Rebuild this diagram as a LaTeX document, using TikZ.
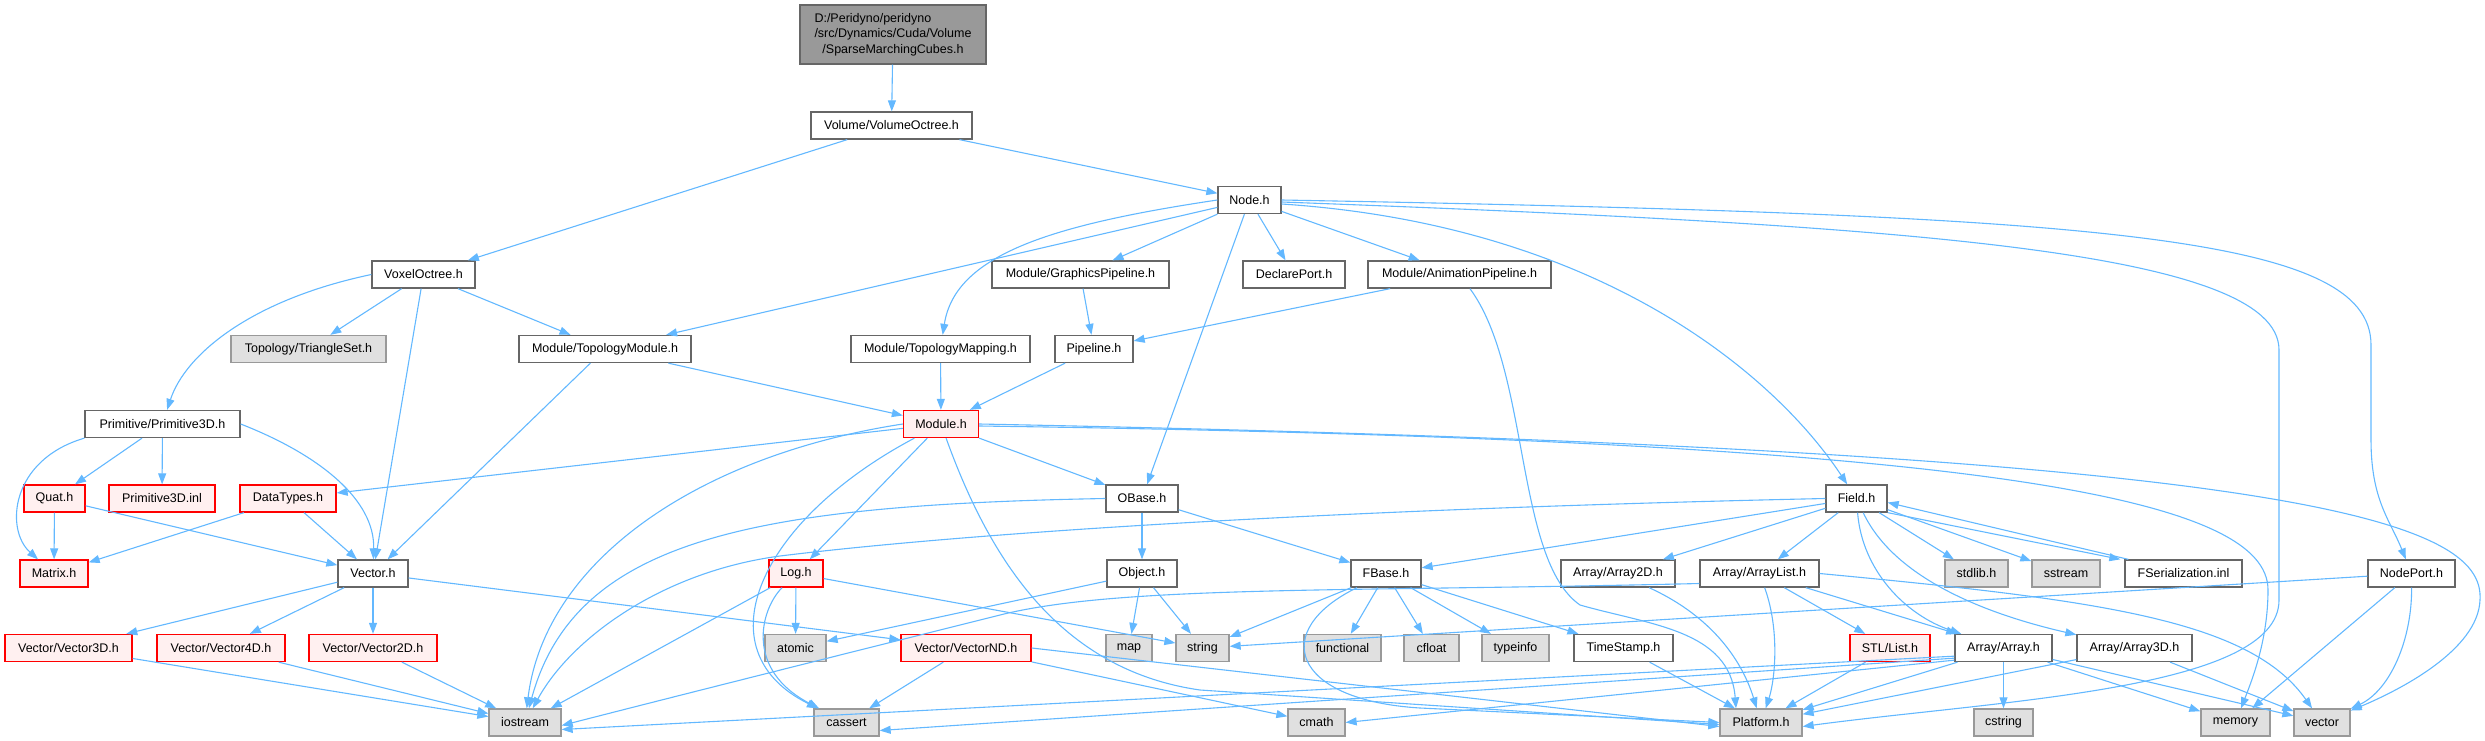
\documentclass[tikz,border=0pt]{standalone}
\usepackage{fontspec}
\setmainfont{Liberation Sans}
\usetikzlibrary{arrows.meta}
\definecolor{depblue}{HTML}{63B8FF}
\definecolor{boxline}{HTML}{666666}
\definecolor{sysfill}{HTML}{E0E0E0}
\definecolor{sysline}{HTML}{999999}
\definecolor{redfill}{HTML}{FFF0F0}
\definecolor{topfill}{HTML}{999999}
\begin{document}
\begin{tikzpicture}[x=1pt,y=-1pt,
  file/.style={draw=boxline,fill=white,line width=1.3pt,minimum height=27pt,inner sep=0pt,font={\fontsize{12.5}{15.5}\selectfont}},
  redfile/.style={file,draw=red,fill=redfill},
  sysfile/.style={file,draw=sysline,fill=sysfill},
  dep/.style={draw=depblue,line width=1.1pt,-{Triangle[length=11pt,width=8pt]}}]
\useasboundingbox (0,0) rectangle (2485,741);
\node[file,fill=topfill,minimum width=186pt,minimum height=59pt] (smc) at (893,34.5) {\begin{tabular}{@{}l@{}}D:/Peridyno/peridyno\\/src/Dynamics/Cuda/Volume\\\multicolumn{1}{@{}c@{}}{/SparseMarchingCubes.h}\end{tabular}};
\node[file,minimum width=161pt] (volOct) at (891.5,125.5) {Volume/VolumeOctree.h};
\node[file,minimum width=63pt] (nodeH) at (1249.5,200) {Node.h};
\node[file,minimum width=103pt] (voxOct) at (423.5,274.5) {VoxelOctree.h};
\node[file,minimum width=177pt] (graphPipe) at (1080.5,274.5) {Module/GraphicsPipeline.h};
\node[file,minimum width=102pt] (declPort) at (1294,274.5) {DeclarePort.h};
\node[file,minimum width=183pt] (animPipe) at (1459.5,274.5) {Module/AnimationPipeline.h};
\node[sysfile,minimum width=155pt] (triSet) at (308.5,349) {Topology/TriangleSet.h};
\node[file,minimum width=172pt] (topoModule) at (605,349) {Module/TopologyModule.h};
\node[file,minimum width=179pt] (topoMap) at (940.5,349) {Module/TopologyMapping.h};
\node[file,minimum width=78pt] (pipeline) at (1094,349) {Pipeline.h};
\node[file,minimum width=155pt] (prim3D) at (162.5,424) {Primitive/Primitive3D.h};
\node[redfile,minimum width=75pt] (module) at (941,424) {Module.h};
\node[redfile,minimum width=61pt] (quat) at (54.5,498.5) {Quat.h};
\node[redfile,minimum width=106pt] (prim3Dinl) at (162,498.5) {Primitive3D.inl};
\node[redfile,minimum width=96pt] (dataTypes) at (288,498.5) {DataTypes.h};
\node[file,minimum width=72pt] (oBase) at (1142,498.5) {OBase.h};
\node[file,minimum width=61pt] (field) at (1856.5,498.5) {Field.h};
\node[redfile,minimum width=68pt] (matrix) at (54,573.5) {Matrix.h};
\node[file,minimum width=70pt] (vectorH) at (373,573.5) {Vector.h};
\node[redfile,minimum width=54pt] (log) at (796,573.5) {Log.h};
\node[file,minimum width=70pt] (object) at (1142,573.5) {Object.h};
\node[file,minimum width=70pt] (fBase) at (1386,573.5) {FBase.h};
\node[file,minimum width=114pt] (array2D) at (1618,573.5) {Array/Array2D.h};
\node[file,minimum width=119pt] (arrayList) at (1759.5,573.5) {Array/ArrayList.h};
\node[sysfile,minimum width=63pt] (stdlib) at (1976.5,573.5) {stdlib.h};
\node[sysfile,minimum width=68pt] (sstream) at (2066,573.5) {sstream};
\node[file,minimum width=117pt] (fSerial) at (2183.5,573.5) {FSerialization.inl};
\node[file,minimum width=87pt] (nodePort) at (2411.5,573.5) {NodePort.h};
\node[redfile,minimum width=127pt] (vec3D) at (68.5,648) {Vector/Vector3D.h};
\node[redfile,minimum width=128pt] (vec4D) at (221,648) {Vector/Vector4D.h};
\node[redfile,minimum width=128pt] (vec2D) at (373,648) {Vector/Vector2D.h};
\node[sysfile,minimum width=61pt] (atomic) at (795.5,648) {atomic};
\node[redfile,minimum width=130pt] (vecND) at (966,648) {Vector/VectorND.h};
\node[sysfile,minimum width=46pt] (map) at (1129,648) {map};
\node[sysfile,minimum width=53pt] (string) at (1202.5,648) {string};
\node[sysfile,minimum width=77pt] (functional) at (1342.5,648) {functional};
\node[sysfile,minimum width=55pt] (cfloat) at (1431.5,648) {cfloat};
\node[sysfile,minimum width=67pt] (typeinfo) at (1515.5,648) {typeinfo};
\node[file,minimum width=99pt] (timeStamp) at (1623.5,648) {TimeStamp.h};
\node[redfile,minimum width=80pt] (stlList) at (1890,648) {STL/List.h};
\node[file,minimum width=97pt] (array) at (2003.5,648) {Array/Array.h};
\node[file,minimum width=115pt] (array3D) at (2134.5,648) {Array/Array3D.h};
\node[sysfile,minimum width=72pt] (iostream) at (525,722.5) {iostream};
\node[sysfile,minimum width=65pt] (cassert) at (846.5,722.5) {cassert};
\node[sysfile,minimum width=57pt] (cmath) at (1316.5,722.5) {cmath};
\node[sysfile,minimum width=82pt] (platform) at (1761,722.5) {Platform.h};
\node[sysfile,minimum width=59pt] (cstring) at (2003.5,722.5) {cstring};
\node[sysfile,minimum width=69pt] (memory) at (2235.5,722.5) {memory};
\node[sysfile,minimum width=56pt] (stdVector) at (2322,722.5) {vector};
\draw[dep] (smc) -- (volOct);
\draw[dep] (volOct) -- (voxOct);
\draw[dep] (volOct) -- (nodeH);
\draw[dep] (voxOct.west) .. controls (250,300) and (185,355) .. (prim3D);
\draw[dep] (voxOct) -- (triSet);
\draw[dep] (voxOct) -- (vectorH);
\draw[dep] (voxOct) -- (topoModule);
\draw[dep] (nodeH) -- (topoModule);
\draw[dep] (nodeH.west) .. controls (1050,225) and (955,255) .. (topoMap);
\draw[dep] (nodeH) -- (graphPipe);
\draw[dep] (nodeH) -- (oBase);
\draw[dep] (nodeH) -- (declPort);
\draw[dep] (nodeH) -- (animPipe);
\draw[dep] ([yshift=-4pt]nodeH.east) .. controls (1600,225) and (1775,375) .. (field);
\draw[dep] ([yshift=-2pt]nodeH.east) .. controls (1900,225) and (2279,250) .. (2279,350) -- (2279,600) .. controls (2279,690) and (2000,700) .. ([yshift=-4pt]platform.east);
\draw[dep] (nodeH.east) .. controls (2100,215) and (2371,235) .. (2371,345) -- (2371,440) .. controls (2371,500) and (2390,520) .. (nodePort);
\draw[dep] (graphPipe) -- (pipeline);
\draw[dep] (animPipe) -- (pipeline);
\draw[dep] (animPipe) .. controls (1530,370) and (1515,560) .. (1580,605) .. controls (1650,625) and (1730,630) .. ([xshift=-25pt]platform.north);
\draw[dep] (topoMap) -- (module);
\draw[dep] (pipeline) -- (module);
\draw[dep] (topoModule) -- (module);
\draw[dep] (topoModule) -- (vectorH);
\draw[dep] (prim3D) -- (quat);
\draw[dep] (prim3D) -- (prim3Dinl);
\draw[dep] (prim3D.south west) .. controls (10,460) and (5,530) .. (matrix);
\draw[dep] (prim3D.east) .. controls (320,455) and (375,500) .. (vectorH);
\draw[dep] (quat) -- (matrix);
\draw[dep] (quat) -- (vectorH);
\draw[dep] (dataTypes) -- (matrix);
\draw[dep] (dataTypes) -- (vectorH);
\draw[dep] (module) -- (dataTypes);
\draw[dep] (module.west) .. controls (700,455) and (545,560) .. (iostream);
\draw[dep] (module) -- (log);
\draw[dep] (module) .. controls (760,520) and (700,650) .. (cassert);
\draw[dep] (module) -- (oBase);
\draw[dep] (module) .. controls (990,560) and (1060,670) .. (1200,690) -- ([yshift=-2pt]platform.west);
\draw[dep] ([yshift=-2pt]module.east) .. controls (2000,440) and (2268,500) .. (2268,590) .. controls (2268,640) and (2252,680) .. (memory);
\draw[dep] (module.east) .. controls (2300,450) and (2485,520) .. (2480,600) .. controls (2478,650) and (2400,690) .. (stdVector);
\draw[dep] (vectorH) -- (vec3D);
\draw[dep] (vectorH) -- (vec4D);
\draw[dep] (vectorH) -- (vec2D);
\draw[dep] (vectorH) -- (vecND);
\draw[dep] (vec3D) -- (iostream);
\draw[dep] (vec4D) -- (iostream);
\draw[dep] (vec2D) -- (iostream);
\draw[dep] (log) -- (iostream);
\draw[dep] (log) -- (atomic);
\draw[dep] (log) .. controls (760,610) and (745,670) .. (cassert);
\draw[dep] (log) -- (string);
\draw[dep] (oBase.west) .. controls (750,505) and (575,540) .. (iostream);
\draw[dep] (oBase) -- (object);
\draw[dep] (oBase) -- (fBase);
\draw[dep] (object) -- (atomic);
\draw[dep] (object) -- (map);
\draw[dep] (object) -- (string);
\draw[dep] (fBase) -- (string);
\draw[dep] (fBase) -- (functional);
\draw[dep] (fBase) -- (cfloat);
\draw[dep] (fBase) -- (typeinfo);
\draw[dep] (fBase) -- (timeStamp);
\draw[dep] (fBase) .. controls (1270,630) and (1290,700) .. (1420,708) -- (platform.west);
\draw[dep] (field.west) .. controls (1300,510) and (950,535) .. (780,556) .. controls (660,572) and (570,640) .. (iostream);
\draw[dep] (field) -- (fBase);
\draw[dep] (field) -- (array2D);
\draw[dep] (field) -- (arrayList);
\draw[dep] (field) -- (stdlib);
\draw[dep] (field) -- (sstream);
\draw[dep] (field.south east) -- ([xshift=-4pt]fSerial.north west);
\draw[dep] ([xshift=4pt]fSerial.north west) -- ([yshift=-4pt]field.east);
\draw[dep] (field) .. controls (1862,570) and (1905,615) .. (array);
\draw[dep] (field) .. controls (1895,580) and (1990,615) .. (array3D);
\draw[dep] (array2D) .. controls (1720,620) and (1745,670) .. (platform);
\draw[dep] ([yshift=-10pt]arrayList.west) .. controls (1350,592) and (1120,585) .. (1000,615) .. controls (880,645) and (700,690) .. ([yshift=-3pt]iostream.east);
\draw[dep] (arrayList) .. controls (1780,630) and (1775,680) .. (platform);
\draw[dep] (arrayList) -- (stlList);
\draw[dep] (arrayList) -- (array);
\draw[dep] (arrayList.east) .. controls (2100,600) and (2250,620) .. (stdVector);
\draw[dep] (timeStamp) -- (platform);
\draw[dep] (stlList) -- (platform);
\draw[dep] (array) -- (platform);
\draw[dep] (array) -- (cstring);
\draw[dep] (array) -- (memory);
\draw[dep] (array) -- (stdVector);
\draw[dep] ([yshift=6pt]array.south west) -- ([yshift=-7pt]iostream.east);
\draw[dep] ([yshift=4pt]array.south west) -- ([yshift=-8pt]cassert.east);
\draw[dep] ([yshift=2pt]array.south west) -- (cmath.east);
\draw[dep] (vecND) -- (cassert);
\draw[dep] (vecND) -- (cmath);
\draw[dep] (vecND.east) -- ([yshift=-4pt]platform.west);
\draw[dep] (array3D) -- (platform);
\draw[dep] (array3D) -- (stdVector);
\draw[dep] (nodePort) -- (string);
\draw[dep] (nodePort) -- (memory);
\draw[dep] (nodePort) .. controls (2412,640) and (2390,690) .. (stdVector);
\end{tikzpicture}
\end{document}
